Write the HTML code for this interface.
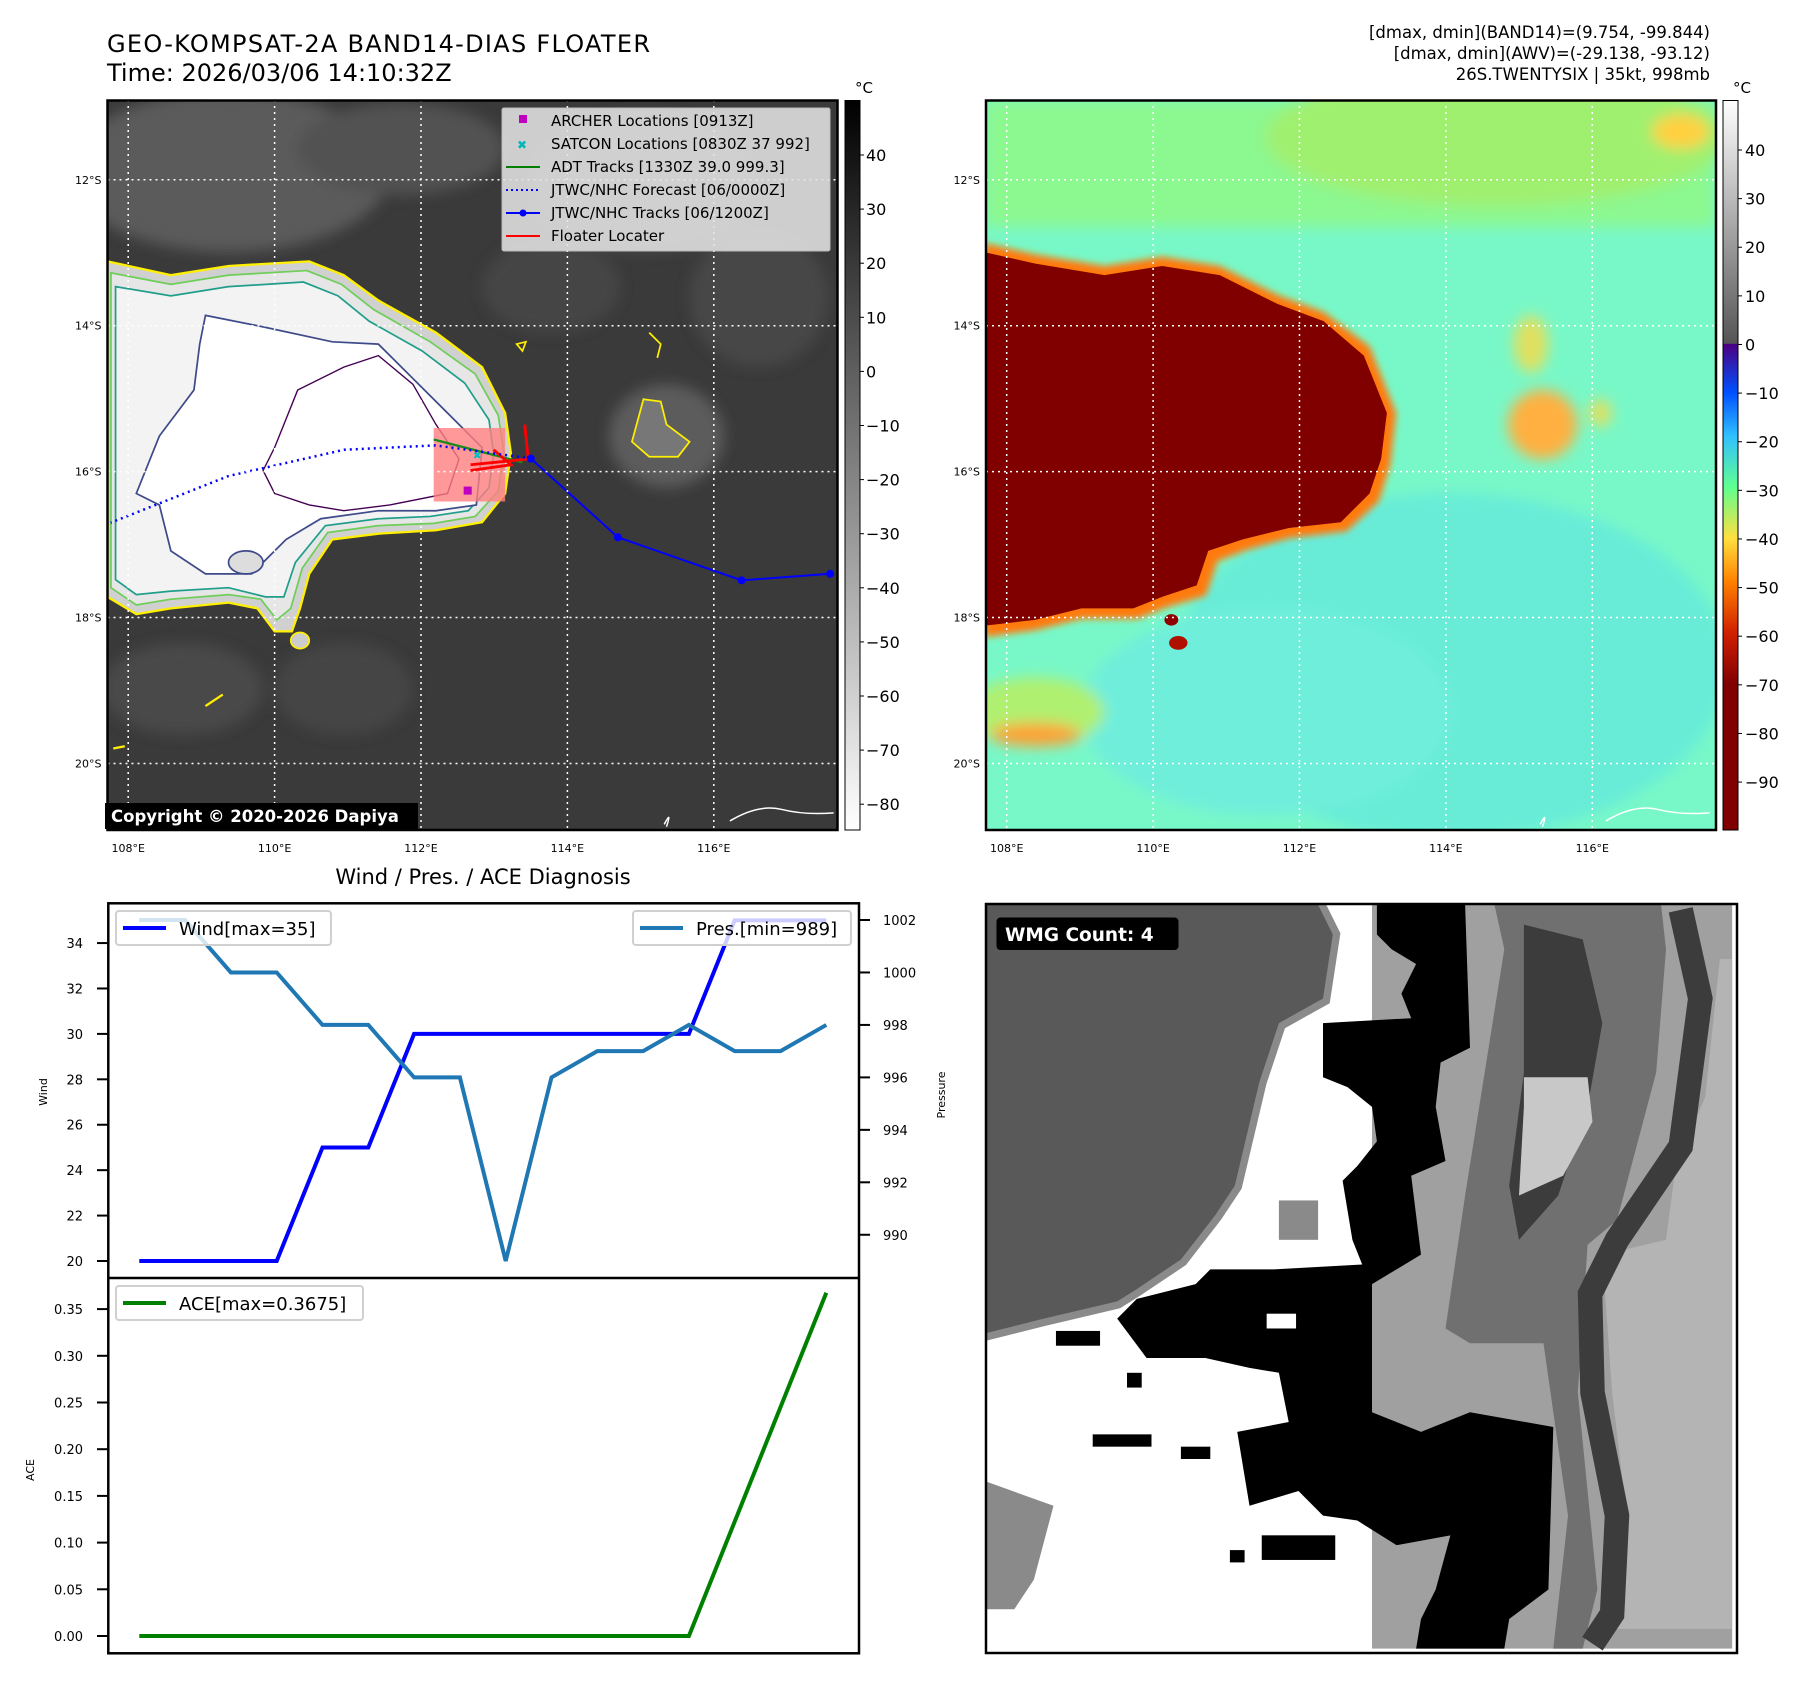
<!DOCTYPE html>
<html><head><meta charset="utf-8"><style>
html,body{margin:0;padding:0;background:#fff}
svg{display:block;font-family:"DejaVu Sans","Liberation Sans",sans-serif}
</style></head><body>
<svg id="root" width="1801" height="1690" viewBox="0 0 1801 1690" xmlns="http://www.w3.org/2000/svg">
<defs>
<linearGradient id="cb1" x1="0" y1="0" x2="0" y2="1"><stop offset="0" stop-color="#000"/><stop offset="1" stop-color="#fff"/></linearGradient>
<linearGradient id="cb2" x1="0" y1="0" x2="0" y2="1">
<stop offset="0" stop-color="#ffffff"/><stop offset="0.333" stop-color="#555"/>
<stop offset="0.334" stop-color="#4b0082"/><stop offset="0.40" stop-color="#0050ff"/><stop offset="0.46" stop-color="#30c0ff"/>
<stop offset="0.53" stop-color="#60ff90"/><stop offset="0.60" stop-color="#ffe040"/><stop offset="0.66" stop-color="#ff8000"/>
<stop offset="0.73" stop-color="#d02000"/><stop offset="0.80" stop-color="#800000"/><stop offset="1" stop-color="#800000"/></linearGradient>
<clipPath id="clip1"><rect x="107.5" y="100.5" width="730" height="729.5"/></clipPath>
<clipPath id="clip2"><rect x="986" y="100.5" width="730" height="729.5"/></clipPath>
<clipPath id="clip3"><rect x="986" y="904" width="751" height="749"/></clipPath>
<filter id="blur6"><feGaussianBlur stdDeviation="6"/></filter>
<filter id="blur3"><feGaussianBlur stdDeviation="3"/></filter>
</defs>

<text x="107" y="52" font-size="24" textLength="543">GEO-KOMPSAT-2A BAND14-DIAS FLOATER</text>
<text x="107" y="81" font-size="24">Time: 2026/03/06 14:10:32Z</text>
<g font-size="16.5" text-anchor="end">
<text x="1710" y="38">[dmax, dmin](BAND14)=(9.754, -99.844)</text>
<text x="1710" y="59">[dmax, dmin](AWV)=(-29.138, -93.12)</text>
<text x="1710" y="80">26S.TWENTYSIX | 35kt, 998mb</text>
</g>

<!-- MAP 1 -->
<g clip-path="url(#clip1)">
<rect x="107.5" y="100.5" width="730" height="730" fill="#3a3a3a"/>
<g transform="matrix(1.1526,0,0,1.149,-2,-0.6)">
<g filter="url(#blur6)" opacity="0.9">
<ellipse cx="200" cy="150" rx="140" ry="70" fill="#5e5e5e"/><ellipse cx="350" cy="130" rx="90" ry="40" fill="#555"/>
<ellipse cx="560" cy="160" rx="100" ry="60" fill="#4c4c4c"/><ellipse cx="660" cy="260" rx="60" ry="60" fill="#4a4a4a"/>
<ellipse cx="580" cy="380" rx="50" ry="45" fill="#606060"/>
<ellipse cx="160" cy="600" rx="70" ry="40" fill="#4c4c4c"/><ellipse cx="300" cy="600" rx="60" ry="40" fill="#464646"/>
<ellipse cx="480" cy="250" rx="60" ry="40" fill="#474747"/>
</g>
<path d="M95,228 L150,240 L200,232 L270,228 L300,240 L330,262 L380,290 L420,320 L440,360 L445,395 L440,430 L420,455 L380,462 L330,465 L290,470 L270,500 L262,530 L255,550 L240,550 L225,530 L200,525 L150,530 L120,535 L95,520 Z" fill="#d0d0d0" stroke="#ffef00" stroke-width="2"/>
<path d="M98,238 L150,248 L200,240 L268,236 L298,248 L326,270 L375,298 L414,326 L434,362 L439,395 L434,428 L414,450 L378,456 L330,458 L286,464 L264,495 L254,530 L242,540 L228,522 L200,518 L150,522 L120,527 L98,512 Z" fill="#e6e6e6" stroke="#6ece58" stroke-width="1.5"/>
<path d="M102,250 L150,258 L200,250 L265,246 L295,258 L322,280 L368,306 L405,334 L426,366 L430,395 L426,425 L408,445 L375,450 L330,452 L284,458 L258,490 L248,520 L232,520 L200,512 L150,515 L120,518 L102,505 Z" fill="#f3f3f3" stroke="#1f9e89" stroke-width="1.5"/>
<path d="M180,275 L230,285 L290,298 L330,300 L360,330 L390,360 L420,390 L415,440 L380,445 L330,445 L280,452 L250,470 L220,500 L180,500 L150,480 L140,440 L120,430 L140,380 L170,340 L175,300 Z" fill="#fff" stroke="#3e4a89" stroke-width="1.5"/>
<path d="M240,390 L260,340 L300,320 L330,310 L360,335 L380,370 L400,400 L390,430 L340,440 L300,445 L270,440 L240,430 L230,410 Z" fill="#fff" stroke="#440154" stroke-width="1.2"/>
<ellipse cx="215" cy="490" rx="15" ry="10" fill="#ddd" stroke="#3e4a89" stroke-width="1.5"/>
<path d="M560,348 L575,350 L580,370 L600,385 L590,398 L565,398 L550,385 Z" fill="#777" stroke="#ffef00" stroke-width="1.5"/>
<path d="M565,290 L575,300 L572,312" fill="none" stroke="#ffef00" stroke-width="1.5"/>
<path d="M450,300 L458,298 L455,306 Z" fill="none" stroke="#ffef00" stroke-width="1.5"/>
<ellipse cx="262" cy="558" rx="8" ry="7" fill="#ccc" stroke="#ffef00" stroke-width="1.5"/>
<path d="M180,615 L195,605 M100,652 L110,650" stroke="#ffef00" stroke-width="2"/>
<path d="M578,718 Q585,705 580,720 M635,715 Q660,700 680,705 Q700,710 725,708" fill="none" stroke="#fff" stroke-width="1.3"/>
<rect x="378" y="373" width="62" height="64" fill="#ff8080" opacity="0.8"/>
<path d="M378,383 L455,403" stroke="#1a8a1a" stroke-width="2"/>
<path d="M457,370 L460,400 L410,405 M410,410 L445,405 L430,392" fill="none" stroke="#ff0000" stroke-width="2.5"/>
<rect x="404" y="424" width="7" height="7" fill="#c000c0"/>
<text x="412" y="400" font-size="9" fill="#00c0c0">✖</text>
</g>
<g id="tracks"></g>
<g id="grid1" stroke="#fff" stroke-width="1.5" stroke-dasharray="2,4"></g>
</g>
<rect x="107.5" y="100.5" width="730" height="729.5" fill="none" stroke="#000" stroke-width="2.5"/>
<g>
<rect x="502" y="108" width="328" height="143" fill="#e3e3e3" opacity="0.88" stroke="#ccc" rx="2"/>
<g font-size="15">
<rect x="519" y="115" width="8" height="8" fill="#c000c0"/><text x="551" y="126">ARCHER Locations [0913Z]</text>
<text x="517" y="149" font-size="12" fill="#00b8b8" font-weight="bold">✖</text><text x="551" y="149">SATCON Locations [0830Z 37 992]</text>
<line x1="506" y1="167" x2="540" y2="167" stroke="#008000" stroke-width="2"/><text x="551" y="172">ADT Tracks [1330Z 39.0 999.3]</text>
<line x1="506" y1="190" x2="540" y2="190" stroke="#0000ff" stroke-width="2" stroke-dasharray="2,3"/><text x="551" y="195">JTWC/NHC Forecast [06/0000Z]</text>
<line x1="506" y1="213" x2="540" y2="213" stroke="#0000ff" stroke-width="2"/><circle cx="523" cy="213" r="3.5" fill="#0000ff"/><text x="551" y="218">JTWC/NHC Tracks [06/1200Z]</text>
<line x1="506" y1="236" x2="540" y2="236" stroke="#ff0000" stroke-width="2"/><text x="551" y="241">Floater Locater</text>
</g></g>
<rect x="105" y="803" width="313" height="26" fill="#000"/>
<text x="111" y="822" font-size="16.5" font-weight="bold" fill="#fff">Copyright © 2020-2026 Dapiya</text>
<rect x="845" y="100.5" width="15" height="729.5" fill="url(#cb1)" stroke="#000" stroke-width="1"/>
<text x="855" y="93" font-size="15">°C</text>
<g id="cb1ticks" font-size="16"></g>
<g id="axes1" font-size="11"></g>

<!-- MAP 2 -->
<g clip-path="url(#clip2)">
<rect x="986" y="100.5" width="730" height="730" fill="#78f8c8"/>
<g transform="matrix(1.1526,0,0,1.149,-2,-0.6)">
<g filter="url(#blur6)">
<rect x="856" y="88" width="634" height="110" fill="#8cf890"/>
<ellipse cx="1300" cy="120" rx="200" ry="60" fill="#a0f070"/>
<ellipse cx="1260" cy="580" rx="240" ry="150" fill="#68ecd8"/>
<ellipse cx="1100" cy="620" rx="160" ry="90" fill="#70eedc"/>
<ellipse cx="900" cy="620" rx="60" ry="30" fill="#b0f070"/>
<ellipse cx="1340" cy="370" rx="30" ry="30" fill="#ffb040"/>
<ellipse cx="1330" cy="300" rx="15" ry="25" fill="#e0e060"/>
<ellipse cx="1460" cy="115" rx="25" ry="15" fill="#ffd040"/>
<ellipse cx="900" cy="640" rx="40" ry="10" fill="#ffa030"/>
<ellipse cx="1390" cy="360" rx="10" ry="12" fill="#e0e060"/>
</g>
<path d="M856,212 L900,222 L960,232 L1010,224 L1060,232 L1110,257 L1150,272 L1190,302 L1213,360 L1208,405 L1198,437 L1170,463 L1120,469 L1084,479 L1058,489 L1048,519 L1014,529 L989,539 L940,539 L900,549 L856,555 Z" fill="#ff7a10" filter="url(#blur3)"/>
<path d="M856,220 L900,230 L960,240 L1010,232 L1060,240 L1110,265 L1150,280 L1185,310 L1205,360 L1200,400 L1190,430 L1165,455 L1120,460 L1080,470 L1050,480 L1040,510 L1010,520 L985,530 L940,530 L900,540 L856,545 Z" fill="#800000"/>
<ellipse cx="1018" cy="540" rx="6" ry="5" fill="#900000"/><ellipse cx="1024" cy="560" rx="8" ry="6" fill="#b01000"/>
<path d="M1338,718 Q1345,705 1340,720 M1395,715 Q1420,700 1440,705 Q1460,710 1485,708" fill="none" stroke="#fff" stroke-width="1.3"/>
</g>
<g id="grid2" stroke="#fff" stroke-width="1.5" stroke-dasharray="2,4"></g>
</g>
<rect x="986" y="100.5" width="730" height="729.5" fill="none" stroke="#000" stroke-width="2.5"/>
<rect x="1723" y="100.5" width="15" height="729.5" fill="url(#cb2)" stroke="#000" stroke-width="1"/>
<text x="1733" y="93" font-size="15">°C</text>
<g id="cb2ticks" font-size="16"></g>
<g id="axes2" font-size="11"></g>

<!-- WMG -->
<g>
<rect x="986" y="904" width="751" height="749" fill="#fff"/>
<g clip-path="url(#clip3)">
<g transform="translate(980,900) scale(0.49,0.4925)">
<rect x="800" y="10" width="735" height="1510" fill="#a0a0a0"/>
<path d="M1050,10 L1390,10 L1400,100 L1380,350 L1300,650 L1240,700 L1220,1000 L1260,1400 L1230,1520 L1170,1520 L1200,1250 L1150,900 L1000,900 L950,870 L990,600 L1030,350 L1070,100 Z" fill="#707070"/>
<path d="M1510,120 L1535,120 L1535,1480 L1290,1480 L1320,1250 L1290,1000 L1270,720 L1400,690 L1420,540 L1480,400 Z" fill="#b4b4b4"/>
<path d="M1110,50 L1230,80 L1270,250 L1240,420 L1180,600 L1100,690 L1080,580 L1110,350 Z" fill="#3c3c3c"/>
<path d="M1110,360 L1240,360 L1250,450 L1190,560 L1100,600 L1110,420 Z" fill="#c8c8c8"/>
<polyline points="1430,20 1470,200 1430,500 1300,690 1245,800 1250,1000 1300,1250 1290,1450 1250,1510" fill="none" stroke="#3c3c3c" stroke-width="50"/>
<path d="M10,10 L690,10 L720,70 L700,200 L610,250 L570,370 L520,580 L480,640 L410,730 L320,790 L280,815 L130,850 L10,880 Z" fill="#595959" stroke="#8a8a8a" stroke-width="30"/>
<path d="M10,10 L690,10 L720,70 L700,200 L610,250 L570,370 L520,580 L480,640 L410,730 L320,790 L280,815 L130,850 L10,880 Z" fill="#595959"/>
<path d="M810,10 L990,10 L1000,300 L940,330 L930,420 L950,530 L880,560 L900,720 L800,780 L800,1040 L900,1080 L1000,1040 L1170,1070 L1160,1400 L1080,1460 L1070,1520 L890,1520 L900,1460 L930,1400 L960,1290 L850,1310 L770,1260 L700,1250 L650,1200 L550,1230 L525,1080 L630,1060 L610,960 L550,950 L460,930 L340,930 L280,850 L320,810 L440,780 L470,750 L600,750 L780,740 L760,690 L740,570 L770,540 L810,490 L800,420 L750,380 L700,360 L700,250 L880,240 L860,190 L890,130 L840,100 L810,70 Z" fill="#000"/>
<path d="M10,1180 L150,1230 L110,1380 L70,1440 L10,1440 Z" fill="#8a8a8a"/>
<rect x="610" y="610" width="80" height="80" fill="#8a8a8a"/>
<rect x="155" y="875" width="90" height="30" fill="#000"/><rect x="300" y="960" width="30" height="30" fill="#000"/>
<rect x="230" y="1085" width="120" height="25" fill="#000"/><rect x="410" y="1110" width="60" height="25" fill="#000"/>
<rect x="510" y="1320" width="30" height="25" fill="#000"/><rect x="575" y="1290" width="150" height="50" fill="#000"/>
<rect x="585" y="840" width="60" height="30" fill="#fff"/>
</g></g>
<rect x="996.5" y="917.5" width="182" height="32.5" rx="4" fill="#000"/>
<text x="1005" y="941" font-size="18.5" font-weight="bold" fill="#fff">WMG Count: 4</text>
<rect x="986" y="904" width="751" height="749" fill="none" stroke="#000" stroke-width="2.5"/>
</g>

<!-- CHART -->
<text x="483" y="884" font-size="21" text-anchor="middle">Wind / Pres. / ACE Diagnosis</text>
<g id="chart"></g>
</svg>
<script>
const NS='http://www.w3.org/2000/svg';
function mk(tag,attrs,parent,txt){const e=document.createElementNS(NS,tag);for(const k in attrs)e.setAttribute(k,attrs[k]);if(txt!==undefined)e.textContent=txt;parent.appendChild(e);return e;}
// ---------- chart data ----------
const timeIndex=[0,1,2,3,4,5,6,7,8,9,10,11,12,13,14,15];
const windValues=[20,20,20,20,25,25,30,30,30,30,30,30,30,35,35,35];
const presValues=[1002,1002,1000,1000,998,998,996,996,989,996,997,997,998,997,997,998];
const aceValues=[0,0,0,0,0,0,0,0,0,0,0,0,0,0.1225,0.245,0.3675];
const windTicks=[20,22,24,26,28,30,32,34];
const presTicks=[990,992,994,996,998,1000,1002];
const aceTicks=[0.00,0.05,0.10,0.15,0.20,0.25,0.30,0.35];
// ---------- map data ----------
const trackLon=[113.5,114.69,116.38,117.59];
const trackLat=[15.82,16.9,17.49,17.4];
const fcstLon=[113.5,112.2,110.95,109.37,107.76];
const fcstLat=[15.82,15.64,15.7,16.06,16.7];
const lonTicks=[108,110,112,114,116];
const latTicks=[12,14,16,18,20];
const irCbTicks=[40,30,20,10,0,-10,-20,-30,-40,-50,-60,-70,-80];
const awvCbTicks=[40,30,20,10,0,-10,-20,-30,-40,-50,-60,-70,-80,-90];

const xI=i=>139.3+i*45.8;
const yW=v=>1261-(v-20)*22.71;
const yP=p=>1261-(p-989)*26.23;
const yA=a=>1636-a*934;
const lonX=(lon,off)=>128.2+(lon-108)*73.2+(off||0);
const latY=lat=>179.8+(lat-12)*72.96;
const cb1Y=v=>155+(40-v)*5.41;
const cb2Y=v=>150+(40-v)*4.862;

const tr=document.getElementById('tracks');
let fp=fcstLon.map((l,i)=>lonX(l)+','+latY(fcstLat[i])).join(' ');
let fl=mk('polyline',{points:fp,fill:'none',stroke:'#0000ff','stroke-width':2.5,'stroke-dasharray':'2,4'},tr);


let tp=trackLon.map((l,i)=>lonX(l)+','+latY(trackLat[i])).join(' ');
let tl=mk('polyline',{points:tp,fill:'none',stroke:'#0000ff','stroke-width':2},tr);


trackLon.forEach((l,i)=>{const c=mk('circle',{cx:lonX(l),cy:latY(trackLat[i]),r:4,fill:'#0000ff'},tr);

});

[[1,0],[2,878.5]].forEach(([n,off])=>{
 const g=document.getElementById('grid'+n), ax=document.getElementById('axes'+n);
 const left=n===1?107.5:986;
 lonTicks.forEach(l=>{const x=lonX(l,off);
  const ln=mk('line',{x1:x,y1:100,x2:x,y2:830},g);
  
  
  const t=mk('text',{x:x,y:852,'text-anchor':'middle'},ax,l+'°E');
  
  });
 latTicks.forEach(l=>{const y=latY(l);
  const ln=mk('line',{x1:left,y1:y,x2:left+730,y2:y},g);
  
  
  const t=mk('text',{x:left-6,y:y+4,'text-anchor':'end'},ax,l+'°S');
  
  });
});
const cb1=document.getElementById('cb1ticks');
irCbTicks.forEach(v=>{const y=cb1Y(v);mk('line',{x1:860,y1:y,x2:864,y2:y,stroke:'#000'},cb1);
 const t=mk('text',{x:866,y:y+6},cb1,v<0?'\u2212'+(-v):v);
 
 });
const cb2=document.getElementById('cb2ticks');
awvCbTicks.forEach(v=>{const y=cb2Y(v);mk('line',{x1:1738,y1:y,x2:1742,y2:y,stroke:'#000'},cb2);
 const t=mk('text',{x:1745,y:y+6},cb2,v<0?'\u2212'+(-v):v);
 
 });

const ch=document.getElementById('chart');
mk('rect',{x:108.3,y:903.3,width:750.7,height:750,fill:'#fff'},ch);
function line(vals,yf,color,name){const p=vals.map((v,i)=>xI(timeIndex[i])+','+yf(v)).join(' ');
 const e=mk('polyline',{points:p,fill:'none',stroke:color,'stroke-width':4,'stroke-linejoin':'miter'},ch);
 
 }
line(windValues,yW,'#0000ff','wind-line');
line(presValues,yP,'#1f77b4','pressure-line');
line(aceValues,yA,'#008000','ace-line');
const tk=mk('g',{'font-size':13},ch);
windTicks.forEach(v=>{const y=yW(v);mk('line',{x1:97,y1:y,x2:108,y2:y,stroke:'#000','stroke-width':2},tk);
 const t=mk('text',{x:83,y:y+5,'text-anchor':'end'},tk,v);
 
 });
presTicks.forEach(v=>{const y=yP(v);mk('line',{x1:859,y1:y,x2:870,y2:y,stroke:'#000','stroke-width':2},tk);
 const t=mk('text',{x:883,y:y+5},tk,v);
 
 });
aceTicks.forEach(v=>{const y=yA(v);mk('line',{x1:97,y1:y,x2:108,y2:y,stroke:'#000','stroke-width':2},tk);
 const t=mk('text',{x:83,y:y+5,'text-anchor':'end'},tk,v.toFixed(2));
 
 });
let t1=mk('text',{x:0,y:0,'font-size':11,'text-anchor':'middle',transform:'translate(47,1092) rotate(-90)'},ch,'Wind');


let t2=mk('text',{x:0,y:0,'font-size':11,'text-anchor':'middle',transform:'translate(945,1095) rotate(-90)'},ch,'Pressure');


let t3=mk('text',{x:0,y:0,'font-size':11,'text-anchor':'middle',transform:'translate(34,1470) rotate(-90)'},ch,'ACE');


function legend(x,y,w,color,label,name){const g=mk('g',{},ch);
 
 
 mk('rect',{x:x,y:y,width:w,height:34,rx:3,fill:'#fff','fill-opacity':0.8,stroke:'#d0d0d0','stroke-width':2},g);
 mk('line',{x1:x+7,y1:y+17,x2:x+50,y2:y+17,stroke:color,'stroke-width':4},g);
 mk('text',{x:x+63,y:y+24,'font-size':18},g,label);}
legend(116,911,215,'#0000ff','Wind[max=35]','wind-legend');
legend(633,911,218,'#1f77b4','Pres.[min=989]','pressure-legend');
legend(116,1286,247,'#008000','ACE[max=0.3675]','ace-legend');
mk('rect',{x:108.3,y:903.3,width:750.7,height:750,fill:'none',stroke:'#000','stroke-width':2.5},ch);
mk('line',{x1:108.3,y1:1278,x2:859,y2:1278,stroke:'#000','stroke-width':2.5},ch);
</script>
</body></html>
